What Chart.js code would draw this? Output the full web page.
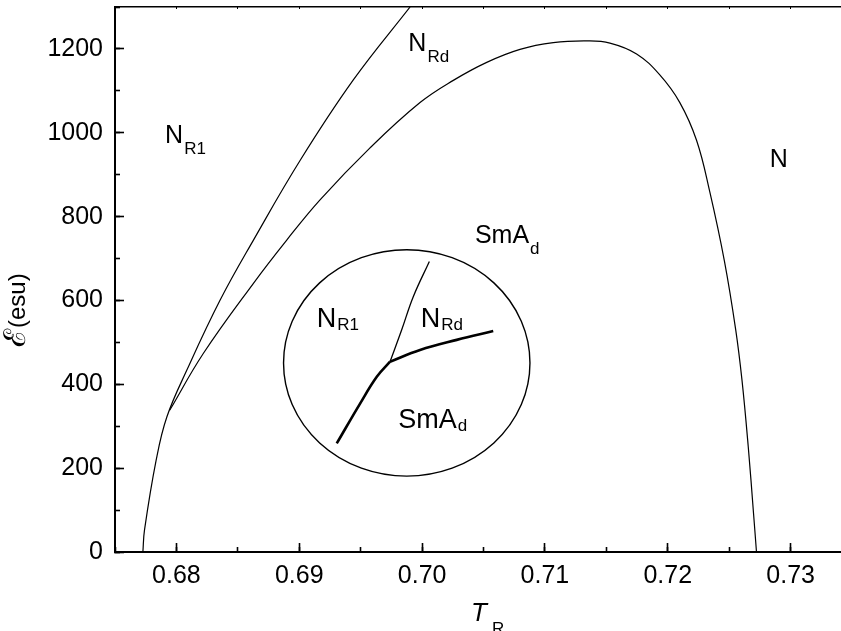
<!DOCTYPE html>
<html>
<head>
<meta charset="utf-8">
<script src="https://cdn.jsdelivr.net/npm/chart.js@4"></script>
<style>
  html, body { margin: 0; padding: 0; background: #fff; }
  canvas { display: block; }
</style>
</head>
<body>
<canvas id="phase" width="841" height="631"></canvas>
<script>
"use strict";

/* ─── AXES ─── */
const T_MIN = 0.675, T_MAX = 0.7341;
const E_MIN = 0, E_MAX = 1300;

/* ─── PHASE BOUNDARIES (T_R, field) ─── */
// N_R1 boundary: shared low branch, then N_R1 / N_Rd line
const outerT = [0.67727, 0.67740, 0.67835, 0.67922, 0.68085, 0.68356, 0.68627, 0.69009, 0.69440, 0.69902];
const outerE = [0, 52, 219, 322, 434, 601, 744, 935, 1126, 1300];

// N_Rd / SmA_d line running over the dome down to the N phase
const innerT = [0.67945, 0.68220, 0.68627, 0.68898, 0.69169, 0.69576, 0.69983, 0.70254, 0.70526, 0.70797,
                0.71068, 0.71339, 0.71529, 0.71746, 0.71935, 0.72098, 0.72234, 0.72342, 0.72461, 0.72553,
                0.72604, 0.72655, 0.72698, 0.72722];
const innerE = [338, 474, 641, 744, 840, 964, 1072, 1125, 1168, 1199,
                1215, 1219, 1214, 1188, 1138, 1072, 982, 859, 694, 530,
                410, 251, 92, 0];

/* ─── INSET SKETCH OF THE TRIPLE POINT ─── */
const insetThinT = [0.69739, 0.69834, 0.69928, 0.70059];
const insetThinE = [454, 530, 609, 693];
const insetRightT = [0.69739, 0.69983, 0.70282, 0.70579];
const insetRightE = [454, 482, 506, 527];
const insetLowT = [0.69305, 0.69495, 0.69631, 0.69739];
const insetLowE = [259, 354, 418, 454];
const insetCircle = { t: 0.69875, e: 451, dt: 0.01003, de: 270 };

/* ─── PHASE LABELS: main text, subscript, anchor (T, E) ─── */
const labelMain = ["N", "N", "SmA", "N", "N", "N", "SmA"];
const labelSub  = ["R1", "Rd", "d", "", "R1", "Rd", "d"];
const labelT    = [0.67908, 0.69888, 0.70430, 0.72831, 0.69142, 0.69989, 0.69806];
const labelE    = [976, 1194, 736, 919, 536, 536, 295];

const FONT = '"Liberation Sans", Arial, Helvetica, sans-serif';

const pts = (xs, ys) => xs.map((x, i) => ({ x, y: ys[i] }));

function curve(data, width) {
  return {
    data, showLine: true, pointRadius: 0, borderColor: "#000", borderWidth: width,
    tension: 0.4, fill: false, xAxisID: "x", yAxisID: "y",
  };
}

// axes keep a fixed size and ask for no extra room for overhanging labels
function fixSize(w, h) {
  return s => {
    if (w !== null) s.width = w;
    if (h !== null) s.height = h;
    s.paddingTop = s.paddingBottom = s.paddingLeft = s.paddingRight = 0;
  };
}

/* ─── overlay: inset circle, phase labels, axis titles ─── */
const overlay = {
  id: "overlay",
  afterDatasetsDraw(chart) {
    const { ctx, scales: { x, y } } = chart;
    ctx.save();

    // inset circle
    const cx = x.getPixelForValue(insetCircle.t), cy = y.getPixelForValue(insetCircle.e);
    const rx = x.getPixelForValue(insetCircle.t + insetCircle.dt) - cx;
    const ry = cy - y.getPixelForValue(insetCircle.e + insetCircle.de);
    ctx.beginPath();
    ctx.ellipse(cx, cy, rx, ry, 0, 0, Math.PI * 2);
    ctx.lineWidth = 1.4;
    ctx.strokeStyle = "#000";
    ctx.stroke();

    // phase labels; the inset ones sit a little larger with a shallower subscript
    ctx.fillStyle = "#000";
    ctx.textBaseline = "alphabetic";
    ctx.textAlign = "left";
    labelMain.forEach((txt, i) => {
      const inset = i >= 4;
      const px = x.getPixelForValue(labelT[i]);
      const py = y.getPixelForValue(labelE[i]);
      ctx.font = (inset ? 27 : 25) + "px " + FONT;
      ctx.fillText(txt, px, py);
      if (labelSub[i]) {
        const w = ctx.measureText(txt).width;
        ctx.font = "17px " + FONT;
        ctx.fillText(labelSub[i], px + w + 1, py + (inset ? 3 : 11));
      }
    });

    // x title: T_R
    ctx.font = "italic 26px " + FONT;
    ctx.fillText("T", 471, 621);
    ctx.font = "17px " + FONT;
    ctx.fillText("R", 492, 634);

    // y title: script E (esu), read bottom to top
    ctx.translate(25, 347);
    ctx.rotate(-Math.PI / 2);
    ctx.font = "30px " + FONT;
    ctx.fillText("\u2130", 0, 0);
    const ew = ctx.measureText("\u2130").width;
    ctx.font = "24px " + FONT;
    ctx.fillText("(esu)", ew + 1, 0);

    ctx.restore();
  }
};

new Chart(document.getElementById("phase"), {
  type: "scatter",
  data: {
    datasets: [
      curve(pts(outerT, outerE), 1.2),
      curve(pts(innerT, innerE), 1.2),
      curve(pts(insetThinT, insetThinE), 1.3),
      curve(pts(insetRightT, insetRightE), 2.6),
      curve(pts(insetLowT, insetLowE), 2.6),
    ]
  },
  options: {
    responsive: false,
    animation: false,
    layout: { padding: { top: 7, left: 0, right: 0, bottom: 0 } },
    plugins: { legend: { display: false }, tooltip: { enabled: false } },
    scales: {
      x: {
        type: "linear", position: "bottom", weight: 1, min: T_MIN, max: T_MAX,
        border: { color: "#000", width: 2 },
        grid: { drawOnChartArea: false, tickLength: -9, tickColor: "#000", tickWidth: 1.6 },
        ticks: {
          stepSize: 0.01, includeBounds: false, padding: 18, color: "#000", autoSkip: false, maxRotation: 0,
          font: { family: FONT, size: 25 }, callback: v => v.toFixed(2),
        },
        afterFit: fixSize(null, 79),
      },
      xMinor: {
        type: "linear", position: "bottom", weight: 0, min: T_MIN, max: T_MAX,
        border: { display: false },
        grid: { drawOnChartArea: false, tickLength: -5, tickColor: "#000", tickWidth: 1.6 },
        ticks: { stepSize: 0.005, includeBounds: false, display: false, autoSkip: false },
        afterFit: fixSize(null, 0),
      },
      xTop: {
        type: "linear", position: "top", min: T_MIN, max: T_MAX,
        border: { color: "#000", width: 1.6 },
        grid: { drawOnChartArea: false, tickLength: -2, tickColor: "#000", tickWidth: 1 },
        ticks: { stepSize: 0.005, includeBounds: false, display: false, autoSkip: false },
        afterFit: fixSize(null, 0),
      },
      y: {
        type: "linear", position: "left", weight: 1, min: E_MIN, max: E_MAX,
        border: { color: "#000", width: 2 },
        grid: { drawOnChartArea: false, tickLength: -9, tickColor: "#000", tickWidth: 1.6 },
        ticks: {
          stepSize: 200, includeBounds: false, padding: 21, color: "#000",
          font: { family: FONT, size: 25 }, callback: v => String(v),
        },
        afterFit: fixSize(115, null),
      },
      yMinor: {
        type: "linear", position: "left", weight: 0, min: E_MIN, max: E_MAX,
        border: { display: false },
        grid: { drawOnChartArea: false, tickLength: -5, tickColor: "#000", tickWidth: 1.6 },
        ticks: { stepSize: 100, includeBounds: false, display: false, autoSkip: false },
        afterFit: fixSize(0, null),
      },
    },
  },
  plugins: [overlay],
});
</script>
</body>
</html>
